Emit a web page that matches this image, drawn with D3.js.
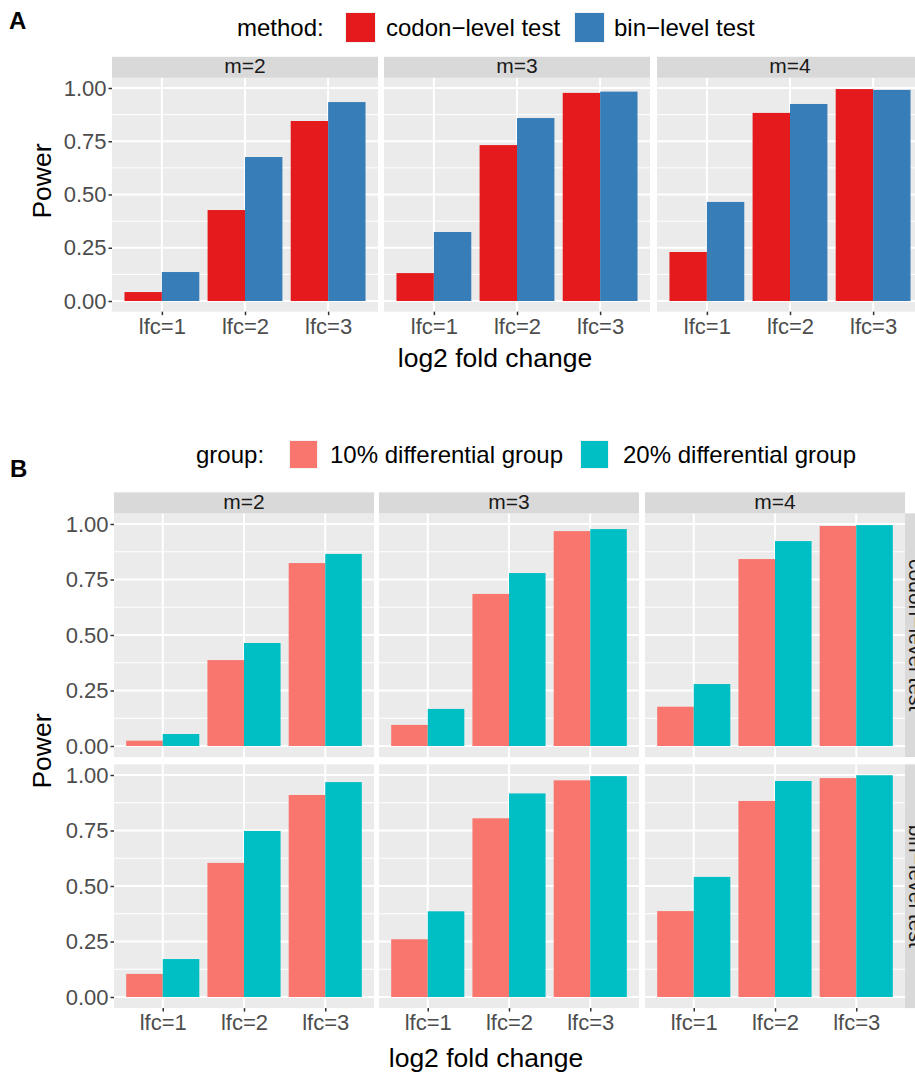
<!DOCTYPE html>
<html>
<head>
<meta charset="utf-8">
<script src="https://cdn.jsdelivr.net/npm/d3@7"></script>
<style>
  body { margin: 0; background: #fff; }
  text { font-family: "Liberation Sans", Arial, Helvetica, sans-serif; }
</style>
</head>
<body>
<div id="chart"></div>
<script>
// labels
const methods = ["codon\u2212level test", "bin\u2212level test"];
const groups = ["10% differential group", "20% differential group"];
const mLabels = ["m=2", "m=3", "m=4"];
const lfcLabels = ["lfc=1", "lfc=2", "lfc=3"];
const yTicks = [0, 0.25, 0.5, 0.75, 1];
const yMinor = [0.125, 0.375, 0.625, 0.875];

// panel A: power per m (rows) and lfc (cols)
const codonPowerA = [[0.042, 0.427, 0.845], [0.131, 0.732, 0.977], [0.230, 0.883, 0.995]];
const binPowerA = [[0.136, 0.676, 0.934], [0.324, 0.859, 0.983], [0.465, 0.925, 0.991]];

// panel B: codon-level test row
const codon10 = [[0.024, 0.387, 0.824], [0.095, 0.685, 0.968], [0.177, 0.842, 0.991]];
const codon20 = [[0.054, 0.464, 0.865], [0.167, 0.779, 0.977], [0.279, 0.923, 0.995]];
// panel B: bin-level test row
const bin10 = [[0.104, 0.604, 0.910], [0.260, 0.805, 0.976], [0.387, 0.883, 0.986]];
const bin20 = [[0.171, 0.748, 0.968], [0.386, 0.917, 0.995], [0.541, 0.973, 0.999]];

const colorsA = ["#E41A1C", "#377EB8"];
const colorsB = ["#F8766D", "#00BFC4"];

const svg = d3.select("#chart").append("svg")
    .attr("width", 915)
    .attr("height", 1075);

// draws one facet panel
function drawPanel(x0, w, yScale, vals1, vals2, colors, opts) {
    const g = svg.append("g");
    const top = yScale(1.048), bottom = yScale(-0.05);

    g.append("rect")
        .attr("x", x0).attr("y", top)
        .attr("width", w).attr("height", bottom - top)
        .attr("fill", "#EBEBEB");

    const x = d3.scalePoint().domain(lfcLabels).range([x0, x0 + w]).padding(0.6);
    const step = x.step();
    const sub = d3.scaleBand().domain([0, 1]).range([-0.45 * step, 0.45 * step]);

    // grid
    g.selectAll(".minor").data(yMinor).enter().append("line")
        .attr("x1", x0).attr("x2", x0 + w)
        .attr("y1", d => yScale(d)).attr("y2", d => yScale(d))
        .attr("stroke", "#fff").attr("stroke-width", 1);
    g.selectAll(".major").data(yTicks).enter().append("line")
        .attr("x1", x0).attr("x2", x0 + w)
        .attr("y1", d => yScale(d)).attr("y2", d => yScale(d))
        .attr("stroke", "#fff").attr("stroke-width", 2);
    g.selectAll(".vmajor").data(lfcLabels).enter().append("line")
        .attr("x1", d => x(d)).attr("x2", d => x(d))
        .attr("y1", top).attr("y2", bottom)
        .attr("stroke", "#fff").attr("stroke-width", 2);

    // bars
    const rows = lfcLabels.map((l, i) => [vals1[i], vals2[i]]);
    rows.forEach((r, i) => {
        r.forEach((v, j) => {
            g.append("rect")
                .attr("x", x(lfcLabels[i]) + sub(j))
                .attr("width", sub.bandwidth())
                .attr("y", yScale(v))
                .attr("height", yScale(0) - yScale(v))
                .attr("fill", colors[j]);
        });
    });

    // strip on top
    if (opts.stripTop) {
        g.append("rect")
            .attr("x", x0).attr("y", top - 21)
            .attr("width", w).attr("height", 21)
            .attr("fill", "#D9D9D9");
        g.append("text")
            .attr("x", x0 + w / 2).attr("y", top - 4.5)
            .attr("text-anchor", "middle")
            .attr("font-size", 21)
            .attr("fill", "#1A1A1A")
            .text(opts.stripTop);
    }
    // strip on right
    if (opts.stripRight) {
        g.append("rect")
            .attr("x", x0 + w).attr("y", top)
            .attr("width", 21).attr("height", bottom - top)
            .attr("fill", "#D9D9D9");
        const cy = (top + bottom) / 2;
        g.append("text")
            .attr("transform", "translate(" + (x0 + w + 4) + "," + cy + ") rotate(90)")
            .attr("text-anchor", "middle")
            .attr("font-size", 21)
            .attr("fill", "#1A1A1A")
            .text(opts.stripRight);
    }

    if (opts.yAxis) {
        const ax = g.append("g")
            .attr("transform", "translate(" + x0 + ",0)")
            .call(d3.axisLeft(yScale).tickValues(yTicks).tickFormat(d3.format(".2f")).tickSize(3.5).tickPadding(2));
        ax.select(".domain").remove();
        ax.selectAll("line").attr("stroke", "#333").attr("stroke-width", 1.5);
        ax.selectAll("text").attr("font-size", 22).attr("fill", "#4D4D4D")
            .attr("font-family", "Liberation Sans, Arial, sans-serif");
    }
    if (opts.xAxis) {
        const ax = g.append("g")
            .attr("transform", "translate(0," + bottom + ")")
            .call(d3.axisBottom(x).tickSize(3.5).tickPadding(3));
        ax.select(".domain").remove();
        ax.selectAll("line").attr("stroke", "#333").attr("stroke-width", 1.5);
        ax.selectAll("text").attr("font-size", 22).attr("fill", "#4D4D4D")
            .attr("font-family", "Liberation Sans, Arial, sans-serif");
    }
}

function legend(xTitle, title, keys, textX, keyY, keySize, colors, labels) {
    svg.append("text")
        .attr("x", xTitle).attr("y", keyY + keySize / 2 + 8)
        .attr("font-size", 24).attr("fill", "#000")
        .text(title);
    labels.forEach((lab, i) => {
        svg.append("rect")
            .attr("x", keys[i] - 1).attr("y", keyY - 1)
            .attr("width", keySize + 2).attr("height", keySize + 2)
            .attr("fill", "#F2F2F2");
        svg.append("rect")
            .attr("x", keys[i]).attr("y", keyY)
            .attr("width", keySize).attr("height", keySize)
            .attr("fill", colors[i]);
        svg.append("text")
            .attr("x", textX[i]).attr("y", keyY + keySize / 2 + 8)
            .attr("font-size", 24).attr("fill", "#000")
            .text(lab);
    });
}

// ---------- panel A ----------
svg.append("text").attr("x", 9).attr("y", 29)
    .attr("font-size", 24).attr("font-weight", "bold").text("A");
legend(237, "method:", [346, 575], [386, 614], 13, 29, colorsA, methods);

const yA = d3.scaleLinear().domain([0, 1]).range([301, 88]);
const xA = [112, 384, 657];
mLabels.forEach((m, i) => {
    drawPanel(xA[i], 266, yA, codonPowerA[i], binPowerA[i], colorsA,
        {stripTop: m, yAxis: i === 0, xAxis: true});
});
svg.append("text")
    .attr("transform", "translate(51,181) rotate(-90)")
    .attr("text-anchor", "middle").attr("font-size", 26.5).text("Power");
svg.append("text")
    .attr("x", 495).attr("y", 367)
    .attr("text-anchor", "middle").attr("font-size", 26.5).text("log2 fold change");

// ---------- panel B ----------
svg.append("text").attr("x", 10).attr("y", 477)
    .attr("font-size", 24).attr("font-weight", "bold").text("B");
legend(196, "group:", [290, 581], [330, 623], 441, 27, colorsB, groups);

const yB1 = d3.scaleLinear().domain([0, 1]).range([746, 524]);
const yB2 = d3.scaleLinear().domain([0, 1]).range([997, 775]);
const xB = [114, 379, 645];
mLabels.forEach((m, i) => {
    drawPanel(xB[i], 260, yB1, codon10[i], codon20[i], colorsB,
        {stripTop: m, yAxis: i === 0, xAxis: false, stripRight: i === 2 ? methods[0] : null});
    drawPanel(xB[i], 260, yB2, bin10[i], bin20[i], colorsB,
        {yAxis: i === 0, xAxis: true, stripRight: i === 2 ? methods[1] : null});
});
svg.append("text")
    .attr("transform", "translate(51,751) rotate(-90)")
    .attr("text-anchor", "middle").attr("font-size", 26.5).text("Power");
svg.append("text")
    .attr("x", 486).attr("y", 1067)
    .attr("text-anchor", "middle").attr("font-size", 26.5).text("log2 fold change");
</script>
</body>
</html>
